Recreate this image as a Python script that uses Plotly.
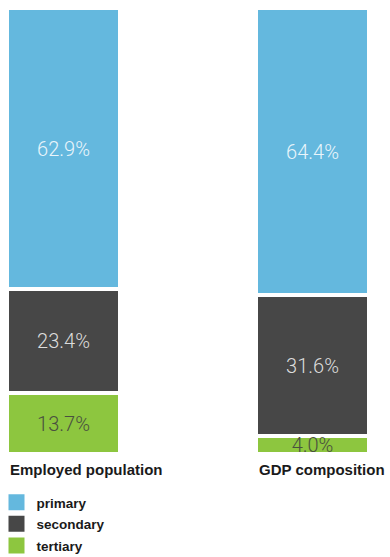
import plotly.graph_objects as go

# Sector shares (%) for each stacked column
categories = ["Employed population", "GDP composition"]
primary = [62.9, 64.4]
secondary = [23.4, 31.6]
tertiary = [13.7, 4.0]

series = [
    ("primary", primary, "#64b8de", "#eaf5fb"),
    ("secondary", secondary, "#474747", "#dcdcdc"),
    ("tertiary", tertiary, "#8dc63f", "#4a5040"),
]

xpos = list(range(len(categories)))
bar_w = 0.4535

fig = go.Figure()
for name, vals, color, txtcolor in series:
    fig.add_trace(go.Bar(
        x=xpos, y=vals, width=bar_w, name=name,
        marker=dict(color=color, line=dict(color="white", width=4)),
        text=[f"{v:.1f}%" for v in vals],
        textposition="inside", insidetextanchor="middle", textangle=0,
        textfont=dict(family="Roboto", size=20, color=txtcolor, weight=300),
        showlegend=False, hoverinfo="skip",
    ))

# Legend entries drawn as square markers
for name, vals, color, _ in series:
    fig.add_trace(go.Scatter(
        x=[None], y=[None], mode="markers", name=name, legendgroup=name,
        marker=dict(symbol="square", size=16, color=color),
    ))

# Column captions, left-aligned under each column
for i, cat in enumerate(categories):
    fig.add_annotation(
        x=i - bar_w / 2, y=0, xref="x", yref="paper",
        xanchor="left", yanchor="top", xshift=1, yshift=-5,
        text=f"<b>{cat}</b>", showarrow=False,
        font=dict(family="Liberation Sans", size=15, color="#1a1a1a"),
    )

fig.update_layout(
    width=390, height=557,
    margin=dict(l=6.5, r=20.5, t=8, b=103, autoexpand=False),
    barmode="stack", bargap=0,
    paper_bgcolor="white", plot_bgcolor="white",
    uniformtext=dict(minsize=20, mode="show"),
    xaxis=dict(range=[-bar_w / 2, 1 + bar_w / 2], visible=False, fixedrange=True),
    yaxis=dict(range=[100, 0], visible=False, fixedrange=True),
    legend=dict(
        x=-0.029, y=-0.074, xanchor="left", yanchor="top",
        traceorder="grouped", tracegroupgap=1,
        font=dict(family="Liberation Sans", size=13.5, color="#1a1a1a", weight="bold"),
        itemsizing="trace", bgcolor="rgba(0,0,0,0)",
    ),
)

fig.write_html("out.html")
